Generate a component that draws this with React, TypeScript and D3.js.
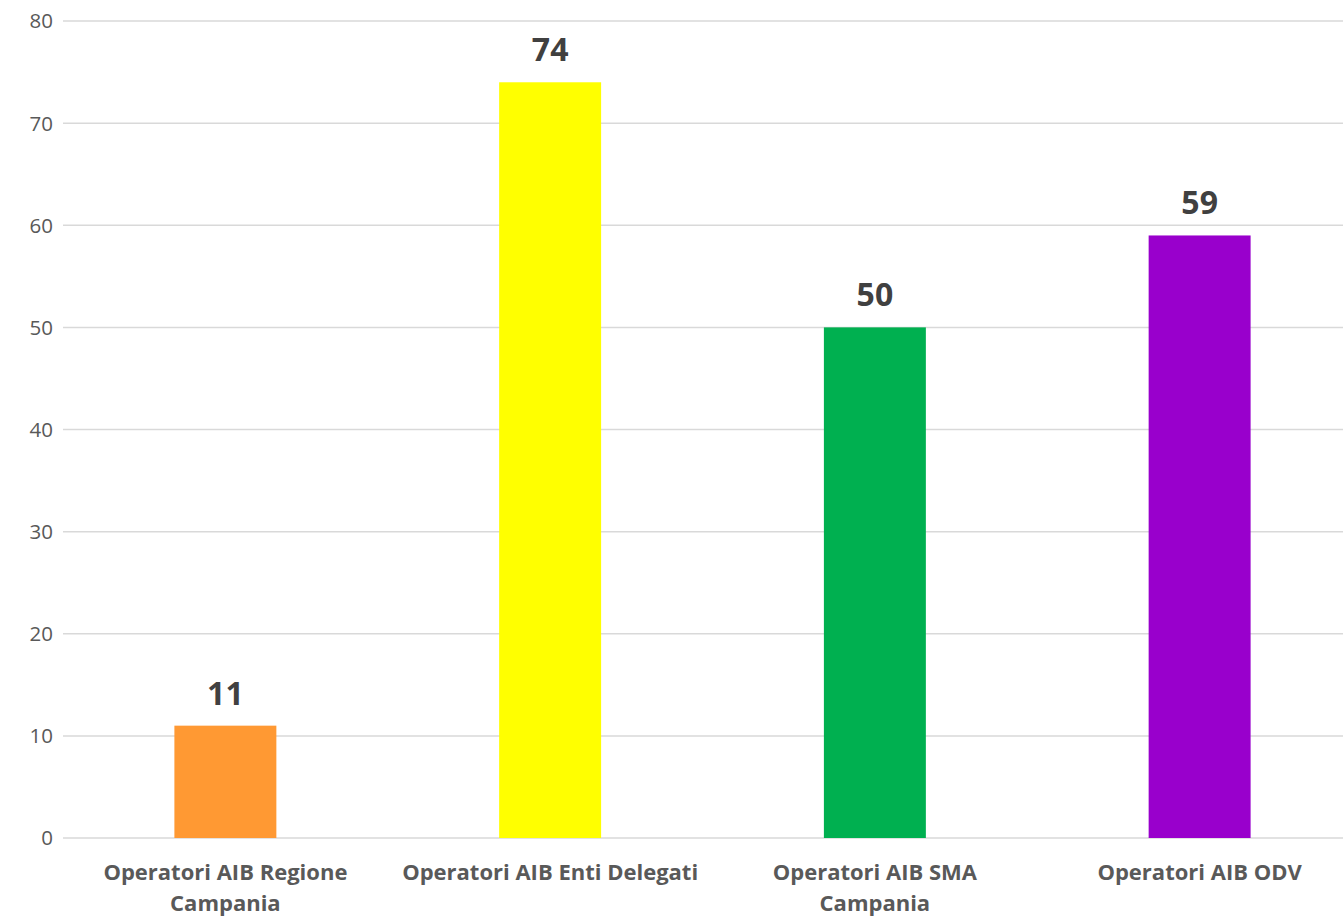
import React from "react";
import * as d3 from "d3";

const categories: string[][] = [
  ["Operatori AIB Regione", "Campania"],
  ["Operatori AIB Enti Delegati"],
  ["Operatori AIB SMA", "Campania"],
  ["Operatori AIB ODV"],
];
const values: number[] = [11, 74, 50, 59];
const colors: string[] = ["#FF9933", "#FFFF00", "#00B050", "#9900CC"];
const yTicks: number[] = [0, 10, 20, 30, 40, 50, 60, 70, 80];

const W = 1343;
const H = 918;
const FONT = "'Open Sans', sans-serif";

export default function App() {
  const x = d3
    .scaleBand<number>()
    .domain(values.map((_, i) => i))
    .range([63, 1362])
    .padding(0);
  const y = d3.scaleLinear().domain([0, 80]).range([838, 21]);
  const barW = x.bandwidth() * 0.314;

  return (
    <svg
      width={W}
      height={H}
      style={{ position: "absolute", left: 0, top: 0, background: "#fff" }}
    >
      {yTicks.map((t) => (
        <g key={t}>
          <line
            x1={63}
            x2={W}
            y1={y(t)}
            y2={y(t)}
            stroke="#D9D9D9"
            strokeWidth={1.5}
          />
          <text
            x={53}
            y={y(t)}
            dy="0.36em"
            textAnchor="end"
            fontFamily={FONT}
            fontSize={20.5}
            fill="#595959"
          >
            {t}
          </text>
        </g>
      ))}
      {values.map((v, i) => {
        const cx = (x(i) as number) + x.bandwidth() / 2;
        return (
          <g key={i}>
            <rect
              x={cx - barW / 2}
              y={y(v)}
              width={barW}
              height={y(0) - y(v)}
              fill={colors[i]}
            />
            <text
              x={cx}
              y={y(v) - 21}
              textAnchor="middle"
              fontFamily={FONT}
              fontWeight="bold"
              fontSize={32}
              fill="#404040"
            >
              {v}
            </text>
            {categories[i].map((line, j) => (
              <text
                key={j}
                x={cx}
                y={880 + j * 31}
                textAnchor="middle"
                fontFamily={FONT}
                fontWeight="bold"
                fontSize={22}
                fill="#595959"
              >
                {line}
              </text>
            ))}
          </g>
        );
      })}
    </svg>
  );
}
